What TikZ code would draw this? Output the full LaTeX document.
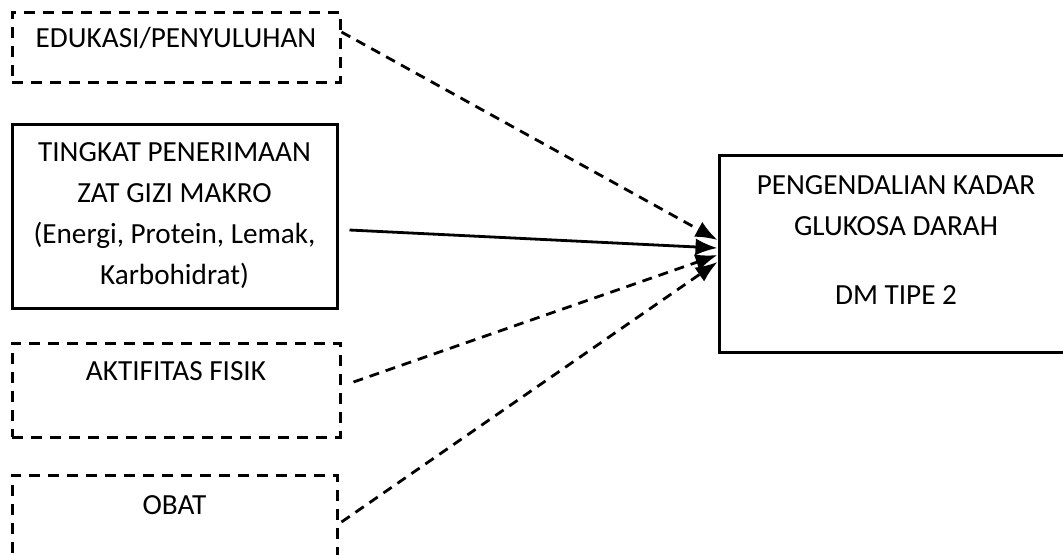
\documentclass[tikz,border=0pt]{standalone}
\usepackage{fontspec}
\setmainfont{Carlito}
\usetikzlibrary{arrows.meta, positioning}

\begin{document}
\begin{tikzpicture}[x=0.5pt, y=-0.5pt,
  solidbox/.style={draw, line width=1.5pt, inner sep=0pt},
  dashbox/.style={solidbox, dash pattern=on 5.5pt off 4pt},
  lbl/.style={inner sep=0pt, text height=9.4pt, text depth=0pt},
  link/.style={line width=1.4pt, -{Latex[length=11pt, width=8.5pt]}},
  dlink/.style={link, dash pattern=on 5pt off 3.5pt},
  font=\fontsize{14.6}{20.5}\selectfont]
\useasboundingbox (0,0) rectangle (1063,554);
\clip (0,0) rectangle (1063,554);
\node[dashbox, minimum width=164pt, minimum height=35pt] (edu) at (176,47) {};
\node[lbl, below=9pt of edu.north] (edutxt) {EDUKASI/PENYULUHAN};
\node[solidbox, minimum width=162.5pt, minimum height=92pt, align=center] (gizi) at (174.5,216)
  {TINGKAT PENERIMAAN\\ZAT GIZI MAKRO\\(Energi, Protein, Lemak,\\Karbohidrat)};
\node[dashbox, minimum width=164pt, minimum height=47pt] (fisik) at (176,390) {};
\node[lbl, below=10pt of fisik.north] (fisiktxt) {AKTIFITAS FISIK};
\node[dashbox, minimum width=162.5pt, minimum height=50pt] (obat) at (174.5,525) {};
\node[lbl, below=11pt of obat.north] (obattxt) {OBAT};
\node[solidbox, minimum width=177pt, minimum height=98.5pt] (gula) at (896,253.5) {};
\node[inner sep=0pt, align=center, anchor=north] (gulatxt) at ([yshift=-11pt]gula.north)
  {PENGENDALIAN KADAR\\GLUKOSA DARAH\\[14pt]DM TIPE 2};
\draw[dlink] ([yshift=7.5pt]edu.east) -- ([yshift=6.75pt]gula.west);
\draw[link] ([xshift=5.5pt,yshift=-7pt]gizi.east) -- ([yshift=2.75pt]gula.west);
\draw[dlink] ([xshift=6pt,yshift=4pt]fisik.east) -- ([yshift=-0.75pt]gula.west);
\draw[dlink] ([xshift=1.5pt,yshift=1.5pt]obat.east) -- ([yshift=-4.25pt]gula.west);
\end{tikzpicture}
\end{document}
